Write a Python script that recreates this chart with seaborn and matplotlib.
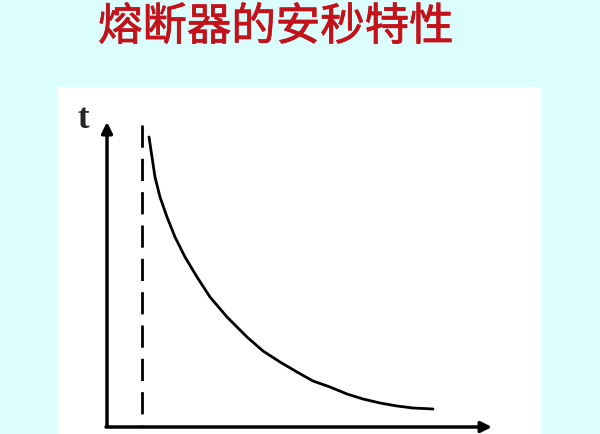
import seaborn as sns
import matplotlib.pyplot as plt
import matplotlib.patheffects as pe
import pandas as pd

# time-current curve of a fuse (arbitrary units)
current = [42, 45, 48, 53, 60, 68, 78, 90, 103, 120, 140, 156, 173, 190,
           206, 223, 240, 256, 273, 290, 306, 326]
time = [290, 270, 250, 230, 210, 190, 170, 150, 130, 110, 90, 76, 65, 55,
        46, 40, 33, 28, 24, 21, 19, 18]
min_fuse_current = 35
dash_top = 302
title = "熔断器的安秒特性"

sns.set_style("white")
plt.rcParams["font.family"] = ["Noto Sans CJK SC", "DejaVu Sans"]

fig = plt.figure(figsize=(6, 4.35), dpi=100)
fig.patch.set_facecolor("#dbfdfd")

fig.text(0.46, 1 - 28 / 435, title, color="#c4121a", fontsize=32,
         ha="center", va="center",
         path_effects=[pe.withStroke(linewidth=0.6, foreground="#c4121a")])

ax = fig.add_axes([57 / 600, 0, 485 / 600, 347 / 435])
ax.set_facecolor("white")
df = pd.DataFrame({"I": current, "t": time})
sns.lineplot(data=df, x="I", y="t", ax=ax, color="black", lw=2, sort=False)
# dashed line drawn top-down so the pattern starts with a full dash
ax.plot([min_fuse_current, min_fuse_current], [dash_top, 0], color="black",
        lw=2, ls=(0, (8, 4)))

# axes arrows
ax.annotate("", xy=(0, 305), xytext=(0, 1),
            arrowprops=dict(arrowstyle="-|>", lw=2.5, color="black",
                            mutation_scale=16, shrinkA=0, shrinkB=0))
ax.annotate("", xy=(385, 0), xytext=(-1, 0),
            arrowprops=dict(arrowstyle="-|>", lw=2.5, color="black",
                            mutation_scale=16, shrinkA=0, shrinkB=0))
ax.text(-24, 308, "t", family="Liberation Serif", fontsize=25,
        fontweight="bold", ha="center", va="center")
ax.text(-17, -4, "o", family="Liberation Serif", fontsize=18,
        ha="center", va="top", clip_on=False)

ax.set_xlim(-50, 435)
ax.set_ylim(-7, 340)
ax.set_xlabel("")
ax.set_ylabel("")
ax.set_xticks([])
ax.set_yticks([])
for s in ax.spines.values():
    s.set_visible(False)

fig.savefig("out.png", dpi=100, facecolor=fig.get_facecolor())
